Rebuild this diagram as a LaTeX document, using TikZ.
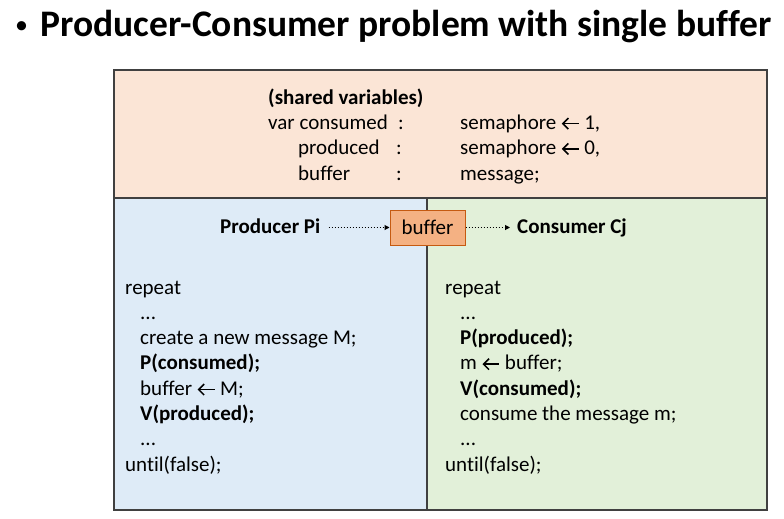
\documentclass[tikz,border=0pt]{standalone}
\usepackage{fontspec}
\setmainfont[Ligatures=NoCommon]{Carlito}
\usetikzlibrary{arrows.meta}
\definecolor{topfill}{HTML}{FBE5D6}
\definecolor{leftfill}{HTML}{DEEBF7}
\definecolor{rightfill}{HTML}{E2F0D9}
\definecolor{buffill}{HTML}{F4B183}
\definecolor{bufdraw}{HTML}{C55A11}
\definecolor{frame}{HTML}{404040}
\newcommand{\larr}{\tikz[x=1pt,y=1pt,baseline=-5.7pt]\draw[line width=1.5pt,{Straight Barb[length=5.5pt,width=11pt]}-] (0,0) -- (17,0);}
\begin{document}
\begin{tikzpicture}[x=1pt,y=-1pt,
  txt/.style={anchor=base west,inner sep=0pt,font=\fontsize{21}{25}\selectfont},
  bold/.style={txt,font=\fontsize{21}{25}\selectfont\bfseries},
  panel/.style={draw=frame,line width=1.2pt},
  flow/.style={dotted,line width=1pt,-{Triangle[length=5pt,width=5pt]}}]
\useasboundingbox (0,0) rectangle (784,519);
% title
\node[anchor=base west,inner sep=0pt,font=\fontsize{26}{30}\selectfont] (bullet) at (15,34) {•};
\node[anchor=base west,inner sep=0pt,font=\fontsize{37.5}{42}\selectfont\bfseries] (title) at (40,37) {Producer-Consumer problem with single buffer};
% panels
\fill[topfill] (114,70) rectangle (767,198);
\fill[leftfill] (114,198) rectangle (427,510);
\fill[rightfill] (427,198) rectangle (767,510);
\draw[panel] (114,70) rectangle (767,510);
\draw[panel] (114,198) -- (767,198);
\draw[panel] (427,198) -- (427,510);
% shared variables
\node[bold] (sv) at (268,104) {(shared variables)};
\node[txt] (v1) at (268,129.3) {var consumed};
\node[txt] (c1) at (398,129.3) {:};
\node[txt] (s1) at (460,129.3) {semaphore \larr\ 1,};
\node[txt] (v2) at (298,154.6) {produced};
\node[txt] (c2) at (396,154.6) {:};
\node[txt] (s2) at (460,154.6) {semaphore \larr\ 0,};
\node[txt] (v3) at (298,180) {buffer};
\node[txt] (c3) at (396,180) {:};
\node[txt] (s3) at (460,180) {message;};
% flow
\node[draw=bufdraw,fill=buffill,line width=1pt,minimum width=75pt,minimum height=35pt,inner sep=0pt,font=\fontsize{21}{25}\selectfont] (buf) at (427.5,227.5) {buffer};
\node[bold] (prod) at (220,233) {Producer Pi};
\node[bold] (cons) at (517,233) {Consumer Cj};
\draw[flow] ([xshift=8pt]prod.east |- buf.west) -- (buf.west);
\draw[flow] (buf.east) -- ([xshift=-7pt]cons.west |- buf.east);
% producer code
\node[txt] (p1) at (125,294) {repeat};
\node[txt] (p2) at (140,319.3) {...};
\node[txt] (p3) at (140,344.6) {create a new message M;};
\node[bold] (p4) at (140,369.9) {P(consumed);};
\node[txt] (p5) at (140,395.2) {buffer \larr\ M;};
\node[bold] (p6) at (140,420.5) {V(produced);};
\node[txt] (p7) at (140,445.8) {...};
\node[txt] (p8) at (125,471.1) {until(false);};
% consumer code
\node[txt] (q1) at (445,294) {repeat};
\node[txt] (q2) at (460,319.3) {...};
\node[bold] (q3) at (460,344.6) {P(produced);};
\node[txt] (q4) at (460,369.9) {m \larr\ buffer;};
\node[bold] (q5) at (460,395.2) {V(consumed);};
\node[txt] (q6) at (460,420.5) {consume the message m;};
\node[txt] (q7) at (460,445.8) {...};
\node[txt] (q8) at (445,471.1) {until(false);};
\end{tikzpicture}
\end{document}
